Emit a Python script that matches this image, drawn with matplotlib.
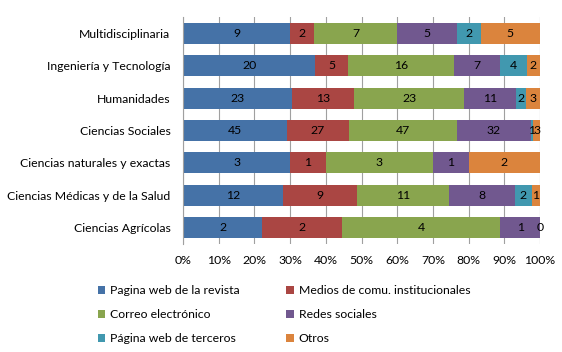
import matplotlib.pyplot as plt
import numpy as np

plt.rcParams['font.family'] = ['Lato', 'DejaVu Sans']

# Datos (de arriba hacia abajo)
categorias = ["Multidisciplinaria", "Ingeniería y Tecnología", "Humanidades",
              "Ciencias Sociales", "Ciencias naturales y exactas",
              "Ciencias Médicas y de la Salud", "Ciencias Agrícolas"]
series = ["Pagina web de la revista", "Medios de comu. institucionales",
          "Correo electrónico", "Redes sociales",
          "Página web de terceros", "Otros"]
pagina_revista = [9, 20, 23, 45, 3, 12, 2]
medios_inst = [2, 5, 13, 27, 1, 9, 2]
correo = [7, 16, 23, 47, 3, 11, 4]
redes = [5, 7, 11, 32, 1, 8, 1]
pagina_terceros = [2, 4, 2, 1, None, 2, 0]
otros = [5, 2, 3, 3, 2, 1, None]

colores = ['#4572A7', '#AA4643', '#89A54E', '#71588F', '#4198AF', '#DB843D']

datos = [pagina_revista, medios_inst, correo, redes, pagina_terceros, otros]
vals = np.array([[0 if v is None else v for v in s] for s in datos], dtype=float)
totales = vals.sum(axis=0)
pct = vals / totales * 100

fig = plt.figure(figsize=(5.62, 3.52), dpi=100)
ax = fig.add_axes([183 / 562, 1 - 244 / 352, 357 / 562, 227 / 352])

y = np.arange(len(categorias))
izq = np.zeros(len(categorias))
handles = []
for i, (nombre, serie) in enumerate(zip(series, datos)):
    b = ax.barh(y, pct[i], left=izq, height=0.65, color=colores[i], label=nombre, zorder=2)
    handles.append(b)
    for j, v in enumerate(serie):
        if v is None:
            continue
        ax.text(izq[j] + pct[i][j] / 2, y[j], str(v), ha='center', va='center',
                fontsize=8.8, color='black', zorder=3)
    izq += pct[i]

ax.set_xlim(0, 100)
ax.set_ylim(len(categorias) - 0.5, -0.5)
ax.set_yticks(y)
ax.set_yticklabels(categorias, fontsize=8.8)
ax.set_xticks(np.arange(0, 101, 10))
ax.set_xticklabels([f"{t}%" for t in range(0, 101, 10)], fontsize=8.8)
ax.xaxis.grid(True, color='#A0A0A0', linewidth=0.8, zorder=0)
ax.tick_params(axis='y', length=0, pad=9)
ax.tick_params(axis='x', length=0, pad=8)
for s in ['top', 'right', 'bottom']:
    ax.spines[s].set_visible(False)
ax.spines['left'].set_color('#A0A0A0')

orden = [0, 2, 4, 1, 3, 5]
fig.legend([handles[k] for k in orden], [series[k] for k in orden],
           loc='upper left', bbox_to_anchor=(87 / 562, 1 - 274 / 352), ncol=2,
           frameon=False, fontsize=8.8, handlelength=0.6, handleheight=0.6,
           handletextpad=0.4, columnspacing=3.8, labelspacing=1.08)

fig.savefig('out.png', dpi=100)
